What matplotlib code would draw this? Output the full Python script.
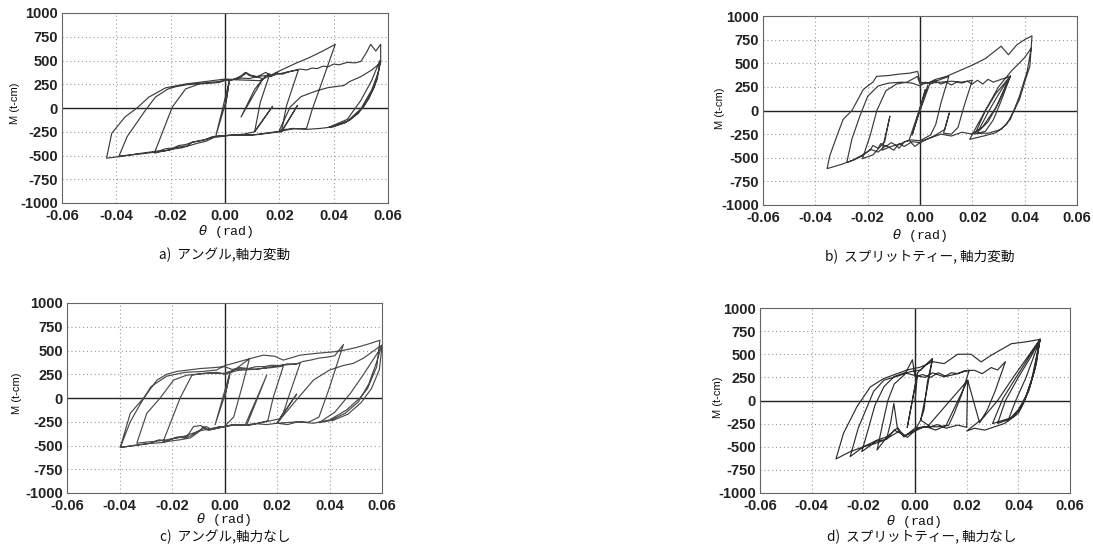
import matplotlib
matplotlib.use("Agg")
import matplotlib.pyplot as plt

W, H = 1093, 556

# ---------------- data (theta [rad], M [t-cm]) ----------------
x_ticks = [-0.06, -0.04, -0.02, 0.00, 0.02, 0.04, 0.06]
x_tick_labels = ["-0.06", "-0.04", "-0.02", "0.00", "0.02", "0.04", "0.06"]
y_ticks = [-1000, -750, -500, -250, 0, 250, 500, 750, 1000]
y_tick_labels = ["-1000", "-750", "-500", "-250", "0", "250", "500", "750", "1000"]

captions = ["a)  アングル,軸力変動", "b)  スプリットティー, 軸力変動",
            "c)  アングル,軸力なし", "d)  スプリットティー, 軸力なし"]

a_path = [
    (0.000, 0), (0.0016, 288), (0.0005, 80), (-0.0033, -285), (-0.001, -20), (0.0016, 288),
    (0.004, 310), (0.006, 340), (0.0075, 375), (0.009, 340), (0.011, 330), (0.014, 310),
    (0.0059, -94), (0.011, 200), (0.015, 340), (0.0165, 360),
    (0.013, 60), (0.0109, -250), (0.0175, 17), (0.0109, -250),
    (0.007, -275), (0.003, -285), (0.000, -290), (-0.004, -300), (-0.008, -340), (-0.012, -360),
    (-0.014, -400), (-0.017, -410), (-0.020, -440), (-0.023, -455), (-0.026, -475),
    (-0.0194, 10), (-0.0145, 201), (-0.0095, 253), (-0.005, 262), (-0.002, 270), (0.000, 290),
    (0.003, 300), (0.006, 330), (0.008, 370), (0.0095, 345), (0.012, 330), (0.015, 375),
    (0.017, 340), (0.020, 360), (0.023, 380), (0.027, 400),
    (0.0226, 20), (0.0208, -250), (0.0267, 28), (0.0208, -250),
    (0.016, -265), (0.012, -280), (0.008, -285), (0.004, -280), (0.000, -295), (-0.004, -310),
    (-0.007, -350), (-0.010, -370), (-0.013, -395), (-0.016, -420), (-0.019, -430),
    (-0.022, -450), (-0.026, -465), (-0.030, -480), (-0.035, -495), (-0.039, -505),
    (-0.036, -300), (-0.0293, -24), (-0.0256, 115), (-0.021, 200), (-0.018, 225),
    (-0.014, 245), (-0.010, 255), (-0.006, 268), (-0.002, 280), (0.001, 300), (0.006, 295),
    (0.0128, 288), (0.020, 390), (0.026, 470), (0.031, 530), (0.036, 600), (0.0406, 670),
    (0.036, 300), (0.032, -24), (0.030, -215),
    (0.025, -220), (0.020, -245), (0.015, -265), (0.010, -285), (0.005, -285), (0.000, -290),
    (-0.0046, -302), (-0.007, -330), (-0.0095, -345), (-0.012, -360), (-0.0145, -385),
    (-0.017, -395), (-0.019, -420), (-0.022, -430), (-0.024, -450), (-0.029, -470),
    (-0.033, -485), (-0.037, -505), (-0.0436, -528),
    (-0.0417, -267), (-0.0368, -94), (-0.0324, 0), (-0.028, 115), (-0.0219, 212),
    (-0.0145, 253), (-0.0095, 270), (-0.0046, 288), (0.000, 305),
    (0.003, 300), (0.006, 315), (0.009, 310), (0.0125, 335), (0.0152, 340), (0.017, 330),
    (0.019, 370), (0.021, 355), (0.024, 385), (0.0276, 410), (0.030, 400), (0.032, 420),
    (0.034, 415), (0.036, 440), (0.038, 435), (0.040, 462), (0.042, 455), (0.045, 480),
    (0.048, 475), (0.050, 490),
    (0.052, 580), (0.0536, 670), (0.0555, 600), (0.0573, 670),
    (0.0573, 480), (0.055, 220), (0.051, 10), (0.046, -128), (0.040, -198), (0.035, -215),
    (0.030, -225), (0.025, -215), (0.020, -235),
    (0.024, 10), (0.028, 120), (0.034, 184), (0.038, 215), (0.0437, 236), (0.046, 280),
    (0.050, 330), (0.054, 400), (0.057, 470),
    (0.056, 300), (0.053, 100), (0.049, -60), (0.044, -160), (0.038, -205),
    (0.045, -120), (0.050, 80), (0.054, 290), (0.057, 500),
    (0.0565, 380), (0.054, 190), (0.050, -10), (0.045, -140), (0.039, -200),
]

b_path = [
    (0.000, 0), (0.002, 220), (-0.003, -260), (0.003, 270), (-0.004, -300), (0.004, 300),
    (0.007, 320), (0.011, 360),
    (0.008, 80), (0.006, -150), (0.004, -260),
    (0.000, -320), (-0.004, -310), (-0.008, -360), (-0.011, -380), (-0.0145, -420),
    (-0.0115, -60), (-0.0135, -330),
    (-0.018, -470), (-0.022, -510),
    (-0.019, -260), (-0.0165, 0), (-0.013, 210), (-0.009, 280), (-0.005, 300), (-0.001, 360),
    (0.000, 280), (0.004, 290), (0.008, 300), (0.012, 310), (0.016, 300), (0.020, 320),
    (0.017, 60), (0.0145, -180), (0.012, -250), (0.009, -240), (0.0112, -25), (0.0095, -200),
    (0.006, -260), (0.003, -300), (0.000, -340), (-0.003, -330), (-0.006, -380), (-0.008, -350),
    (-0.010, -420), (-0.013, -370), (-0.016, -440), (-0.019, -410), (-0.022, -480),
    (-0.025, -520), (-0.028, -550),
    (-0.026, -300), (-0.023, -60), (-0.020, 150), (-0.016, 260), (-0.012, 290), (-0.007, 300),
    (-0.003, 290), (0.000, 260), (0.002, 300), (0.004, 280), (0.006, 310), (0.008, 280),
    (0.010, 300), (0.012, 270), (0.014, 300), (0.016, 290), (0.018, 310), (0.020, 280),
    (0.022, 320), (0.024, 280), (0.026, 330), (0.028, 300), (0.031, 330), (0.0345, 360),
    (0.031, 100), (0.028, -100), (0.025, -220), (0.021, -250),
    (0.025, 0), (0.029, 180), (0.0345, 360),
    (0.030, 80), (0.026, -120), (0.022, -230),
    (0.026, -20), (0.030, 170), (0.0345, 370),
    (0.029, 30), (0.024, -170), (0.020, -250),
    (0.016, -230), (0.012, -270), (0.008, -250), (0.004, -290), (0.001, -320), (-0.002, -380),
    (-0.004, -320), (-0.006, -330), (-0.008, -400), (-0.009, -370), (-0.011, -340),
    (-0.013, -380), (-0.015, -350), (-0.016, -400), (-0.018, -370), (-0.019, -420),
    (-0.022, -470), (-0.026, -530), (-0.030, -570), (-0.0355, -615),
    (-0.0345, -480), (-0.0315, -250), (-0.0294, -95), (-0.026, 0), (-0.0217, 221),
    (-0.020, 260), (-0.018, 300), (-0.0166, 361), (-0.012, 370), (-0.008, 385),
    (-0.004, 395), (-0.0009, 414),
    (0.000, 300), (0.003, 290), (0.006, 330), (0.010, 360), (0.015, 420), (0.020, 480),
    (0.025, 550), (0.031, 680), (0.0338, 590), (0.037, 695), (0.040, 750), (0.0428, 790),
    (0.042, 470), (0.040, 300), (0.038, 116), (0.036, 0), (0.033, -150), (0.029, -235),
    (0.0243, -270), (0.019, -305),
    (0.022, -150), (0.026, 50), (0.030, 250), (0.035, 420), (0.040, 560), (0.0425, 660),
    (0.041, 420), (0.038, 150), (0.0345, -95), (0.031, -200), (0.026, -240), (0.020, -240),
]

c_path = [
    (0.000, 0), (0.002, 250), (0.0005, 60), (-0.0036, -283), (-0.001, -30), (0.002, 260),
    (0.005, 320), (0.0095, 413),
    (0.0065, 100), (0.0035, -200), (0.000, -300), (-0.005, -320), (-0.010, -350),
    (-0.015, -400), (-0.020, -430), (-0.0235, -468),
    (-0.0169, 0), (-0.0124, 241), (-0.008, 260), (-0.003, 270), (0.000, 250), (0.005, 290),
    (0.010, 300), (0.014, 310), (0.018, 320), (0.0224, 335),
    (0.0185, 0), (0.0165, -240), (0.012, -270), (0.0079, -283), (0.0161, 241), (0.0085, -283),
    (0.004, -283), (0.000, -301), (-0.003, -320), (-0.0067, -336), (-0.009, -290),
    (-0.0118, -301), (-0.0143, -406), (-0.018, -420), (-0.022, -440), (-0.026, -455),
    (-0.030, -465), (-0.0334, -476),
    (-0.0296, -161), (-0.0245, 0), (-0.0194, 189), (-0.0143, 241), (-0.0067, 259),
    (0.000, 260), (0.004, 300), (0.008, 310), (0.012, 300), (0.016, 320), (0.020, 340),
    (0.024, 350), (0.0288, 364),
    (0.025, 60), (0.0225, -150), (0.020, -266), (0.0275, 42), (0.021, -220),
    (0.016, -248), (0.0098, -283), (0.0034, -283), (0.000, -301), (-0.002, -300),
    (-0.005, -330), (-0.007, -300), (-0.010, -350), (-0.013, -400), (-0.015, -420),
    (-0.018, -410), (-0.022, -450), (-0.025, -440), (-0.028, -476), (-0.035, -500),
    (-0.0397, -521),
    (-0.0359, -161), (-0.0308, 0), (-0.0257, 189), (-0.022, 250), (-0.018, 280),
    (-0.0093, 310), (-0.004, 320), (0.000, 330), (0.003, 300), (0.006, 320), (0.009, 310),
    (0.012, 330), (0.015, 330), (0.018, 345), (0.021, 340), (0.024, 360), (0.027, 355),
    (0.030, 385), (0.033, 400), (0.036, 420), (0.039, 430), (0.042, 445), (0.0453, 563),
    (0.0395, 70), (0.036, -200), (0.032, -255),
    (0.028, -250), (0.024, -280), (0.020, -266), (0.016, -280), (0.012, -270),
    (0.0098, -283), (0.006, -290), (0.003, -280), (0.000, -301), (-0.003, -320),
    (-0.006, -340), (-0.008, -300), (-0.010, -360), (-0.013, -420), (-0.017, -440),
    (-0.021, -455), (-0.024, -470), (-0.029, -480), (-0.034, -500), (-0.0397, -521),
    (-0.0359, -250), (-0.032, -60), (-0.028, 120), (-0.022, 230), (-0.015, 270),
    (-0.008, 280), (-0.003, 295), (0.000, 340), (0.004, 370), (0.0095, 413),
    (0.0148, 451), (0.019, 440), (0.0224, 399), (0.025, 420), (0.0288, 451),
    (0.035, 470), (0.0415, 486), (0.045, 500), (0.050, 530), (0.055, 570), (0.0592, 608),
    (0.058, 329), (0.0545, 100), (0.0516, 0), (0.0465, -126), (0.040, -231),
    (0.0339, -266), (0.028, -250), (0.020, -266),
    (0.0263, -56), (0.0339, 189), (0.040, 294), (0.045, 340), (0.049, 364),
    (0.053, 420), (0.057, 500), (0.0599, 556),
    (0.058, 380), (0.055, 150), (0.051, -40), (0.046, -160), (0.040, -240), (0.036, -260),
    (0.042, -150), (0.048, 50), (0.053, 250), (0.057, 420), (0.060, 545),
    (0.059, 300), (0.056, 100), (0.052, -50), (0.047, -170), (0.041, -240),
]

d_path = [
    (0.000, 0), (0.001, 300), (-0.003, -290), (0.001, 300), (0.004, 380), (0.0068, 453),
    (0.0045, 100), (0.0022, -212), (0.000, -320), (-0.0043, -392), (-0.0069, -284),
    (-0.0082, -32), (-0.0095, -250), (-0.0108, -392), (-0.0147, -535),
    (-0.0125, -250), (-0.0105, 0), (-0.008, 180), (-0.004, 280), (-0.001, 440),
    (0.000, 260), (0.003, 280), (0.006, 250), (0.009, 300), (0.012, 260), (0.0165, 290),
    (0.021, 330),
    (0.018, 60), (0.015, -150), (0.013, -270),
    (0.0087, -284), (0.0035, -284), (0.000, -330), (-0.004, -380), (-0.008, -320),
    (-0.011, -420), (-0.015, -440), (-0.0206, -553),
    (-0.018, -300), (-0.0155, -50), (-0.012, 150), (-0.008, 260), (-0.004, 300),
    (0.000, 270), (0.004, 250), (0.0068, 300), (0.0113, 255), (0.014, 300), (0.0165, 291),
    (0.019, 320), (0.023, 327), (0.026, 290), (0.0295, 356), (0.032, 330), (0.035, 420),
    (0.031, 100), (0.028, -100), (0.025, -240),
    (0.0204, 219), (0.0048, -284),
    (0.001, -300), (-0.003, -400), (-0.006, -330), (-0.009, -380), (-0.012, -430),
    (-0.016, -470), (-0.020, -500), (-0.0251, -607),
    (-0.022, -300), (-0.019, -100), (-0.016, 100), (-0.012, 220), (-0.006, 270),
    (-0.002, 310), (0.0022, 330), (0.0068, 453),
    (0.0048, 200), (0.0035, -100), (0.0022, -212),
    (0.006, -284), (0.0087, -260), (0.012, -300), (0.0165, -266), (0.020, -290),
    (0.0204, 219), (0.012, -270),
    (0.008, -320), (0.004, -280), (0.000, -300), (-0.0043, -392), (-0.007, -300),
    (-0.0108, -392), (-0.0147, -428), (-0.0199, -500), (-0.0251, -553), (-0.0306, -632),
    (-0.0277, -356), (-0.0225, -68), (-0.0173, 147), (-0.0121, 237), (-0.0069, 291),
    (-0.003, 330), (0.002, 360), (0.0068, 420), (0.0113, 399), (0.0165, 500),
    (0.0217, 500), (0.0256, 417), (0.0295, 489), (0.0373, 614), (0.0425, 632),
    (0.0484, 661),
    (0.0451, 219), (0.0425, 0), (0.040, -140), (0.0347, -248), (0.027, -320),
    (0.023, -300), (0.020, -330),
    (0.026, -200), (0.032, 0), (0.038, 250), (0.0484, 661),
    (0.046, 300), (0.043, 50), (0.040, -100), (0.036, -220),
    (0.039, 0), (0.043, 250), (0.0484, 661),
    (0.0465, 350), (0.044, 100), (0.041, -80), (0.037, -200), (0.032, -248),
    (0.035, 0), (0.040, 250), (0.045, 480), (0.0484, 661),
    (0.047, 400), (0.0445, 150), (0.0415, -50), (0.038, -180), (0.030, -250),
    (0.034, 20), (0.038, 200), (0.043, 420), (0.0484, 661),
]

paths = [a_path, b_path, c_path, d_path]

# ---------------- layout (pixel boxes: left, right, top, bottom) ----------------
boxes = [(62, 388, 13, 203), (763, 1077, 16, 205), (67, 382, 303, 493), (760, 1070, 308, 493)]
caption_xy = [(225, 255), (920, 257), (225, 537), (922, 537)]
xlabel_xy = [(226, 231), (920, 236), (224, 520), (914, 522)]
ylabel_xy = [(15, 103), (720, 108), (17, 393), (718, 397)]

fig = plt.figure(figsize=(W / 100, H / 100), dpi=100)
fig.patch.set_facecolor("white")

line_colors = ["#3c3c3c", "#3a3a3a", "#4a4a4a", "#2e2e2e"]

for i, (path, box) in enumerate(zip(paths, boxes)):
    l, r, t, b = box
    ax = fig.add_axes([l / W, 1 - b / H, (r - l) / W, (b - t) / H])
    ax.set_xlim(-0.06, 0.06)
    ax.set_ylim(-1000, 1000)
    ax.set_xticks(x_ticks)
    ax.set_xticklabels(x_tick_labels)
    ax.set_yticks(y_ticks)
    ax.set_yticklabels(y_tick_labels)
    ax.tick_params(axis="x", length=0, pad=4, labelsize=10.5, labelcolor="#222222")
    ax.tick_params(axis="y", length=0, pad=3, labelsize=10.5, labelcolor="#222222")
    for lab in ax.get_xticklabels() + ax.get_yticklabels():
        lab.set_fontfamily("Liberation Sans")
        lab.set_fontweight("bold")
    ax.grid(True, linestyle=(0, (1, 2.5)), color="#9a9a9a", linewidth=0.8)
    ax.axhline(0, color="#222222", linewidth=1.0, zorder=2)
    ax.axvline(0, color="#222222", linewidth=1.0, zorder=2)
    for sp in ax.spines.values():
        sp.set_color("#666666")
        sp.set_linewidth(0.8)
    th = [p[0] for p in path]
    mm = [p[1] for p in path]
    ax.plot(th, mm, color=line_colors[i], linewidth=0.85, zorder=3)

    cx, cy = caption_xy[i]
    fig.text(cx / W, 1 - cy / H, captions[i], ha="center", va="center",
             fontsize=9.8, family=["Noto Sans CJK JP", "DejaVu Sans"], color="#111111")
    xx, xy = xlabel_xy[i]
    fig.text(xx / W, 1 - xy / H, r"$\theta$ (rad)", ha="center", va="center",
             fontsize=9.5, family=["Liberation Mono", "DejaVu Sans Mono"], color="#111111")
    yx, yy = ylabel_xy[i]
    fig.text(yx / W, 1 - yy / H, "M (t-cm)", ha="center", va="center", rotation=90,
             fontsize=8, family=["Liberation Sans", "DejaVu Sans"], color="#111111")

fig.savefig("out.png", dpi=100, facecolor="white")
